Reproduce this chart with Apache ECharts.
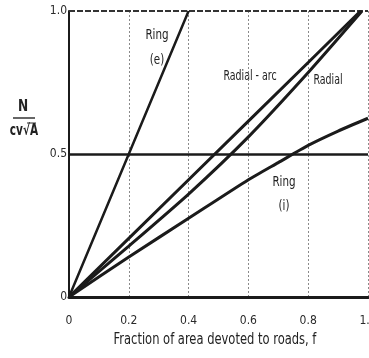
<!DOCTYPE html>
<html>
<head>
<meta charset="utf-8">
<script src="https://cdn.jsdelivr.net/npm/echarts@6/dist/echarts.min.js"></script>
<style>
  html, body { margin: 0; padding: 0; background: #fff; }
  #chart { width: 369px; height: 358px; }
</style>
</head>
<body>
<div id="chart"></div>
<script>
// Fraction of area devoted to roads, f
const fRingE = [0, 0.2, 0.4];
const nRingE = [0, 0.5, 1.0];

const fRadialArc = [0, 0.2, 0.4, 0.6, 0.8, 0.975];
const nRadialArc = [0, 0.205, 0.41, 0.615, 0.82, 1.0];

const fRadial = [0, 0.2, 0.4, 0.6, 0.8, 0.98];
const nRadial = [0, 0.178, 0.36, 0.56, 0.785, 1.0];

const fRingI = [0, 0.2, 0.4, 0.6, 0.7, 0.8, 0.9, 1.0];
const nRingI = [0, 0.14, 0.275, 0.41, 0.47, 0.53, 0.58, 0.625];

const xTickLabels = ['0', '0.2', '0.4', '0.6', '0.8', '1.0'];
const yTickLabels = ['0', '0.5', '1.0'];

const FONT = "'DejaVu Sans Condensed', 'Liberation Sans', Arial, sans-serif";
const INK = '#1b1b1b';

const pairs = (xs, ys) => xs.map((x, i) => [x, ys[i]]);

function curve(name, xs, ys, extra) {
  return Object.assign({
    name: name,
    type: 'line',
    data: pairs(xs, ys),
    showSymbol: false,
    smooth: false,
    lineStyle: { color: INK, width: 3 },
    silent: true,
    z: 5
  }, extra || {});
}

// condensed text helper for labels drawn on the canvas
function label(text, x, y, size, sx, weight) {
  return {
    type: 'text', x: x, y: y, scaleX: sx || 0.82,
    style: {
      text: text, font: (weight || 'normal') + ' ' + size + 'px ' + FONT,
      fill: '#222', align: 'center', verticalAlign: 'middle'
    }
  };
}

const chart = echarts.init(document.getElementById('chart'), null, { renderer: 'canvas' });

chart.setOption({
  animation: false,
  backgroundColor: '#fff',
  grid: { left: 69, right: 1, top: 11, bottom: 61, outerBoundsMode: 'none', containLabel: false },
  xAxis: {
    type: 'value',
    min: 0, max: 1, interval: 0.2,
    axisLine: { show: true, lineStyle: { color: INK, width: 3 } },
    axisTick: { show: false },
    axisLabel: {
      margin: 18,
      fontFamily: FONT, fontSize: 12, color: '#2a2a2a',
      formatter: (v) => xTickLabels[Math.round(v / 0.2)]
    },
    splitLine: { show: true, lineStyle: { color: '#8a8a8a', width: 1, type: [2, 2] } }
  },
  yAxis: {
    type: 'value',
    min: 0, max: 1, interval: 0.5,
    axisLine: { show: true, lineStyle: { color: INK, width: 2 } },
    axisTick: { show: false },
    axisLabel: {
      margin: 2,
      fontFamily: FONT, fontSize: 12, color: '#2a2a2a',
      formatter: (v) => yTickLabels[Math.round(v / 0.5)]
    },
    splitLine: { show: false }
  },
  series: [
    curve('Ring (e)', fRingE, nRingE, {
      lineStyle: { color: INK, width: 2.5 },
      markLine: {
        silent: true,
        symbol: 'none',
        label: { show: false },
        data: [
          { yAxis: 0.5, lineStyle: { color: INK, width: 2.5, type: 'solid' } },
          { yAxis: 1.0, lineStyle: { color: '#333', width: 2, type: [6, 2] } }
        ]
      }
    }),
    curve('Radial - arc', fRadialArc, nRadialArc),
    curve('Radial', fRadial, nRadial, { smooth: 0.2 }),
    curve('Ring (i)', fRingI, nRingI, { smooth: 0.2 })
  ],
  graphic: [
    // y-axis title: N over cv√A
    label('N', 23, 107, 15, 0.9, 'bold'),
    { type: 'line', shape: { x1: 13, y1: 118, x2: 35, y2: 118 }, style: { stroke: '#333', lineWidth: 1.5 } },
    label('cv\u221AA', 24, 131, 15, 0.78, 'bold'),
    { type: 'line', shape: { x1: 27, y1: 123, x2: 36, y2: 123 }, style: { stroke: '#333', lineWidth: 1 } },
    // curve labels
    label('Ring', 157, 35, 14),
    label('(e)', 157, 60, 14),
    label('Radial - arc', 250, 76, 14, 0.75),
    label('Radial', 328, 80, 14, 0.75),
    label('Ring', 284, 182, 14),
    label('(i)', 284, 206, 14),
    // x-axis title
    label('Fraction of area devoted to roads, f', 215, 340, 16, 0.8)
  ]
});
</script>
</body>
</html>
